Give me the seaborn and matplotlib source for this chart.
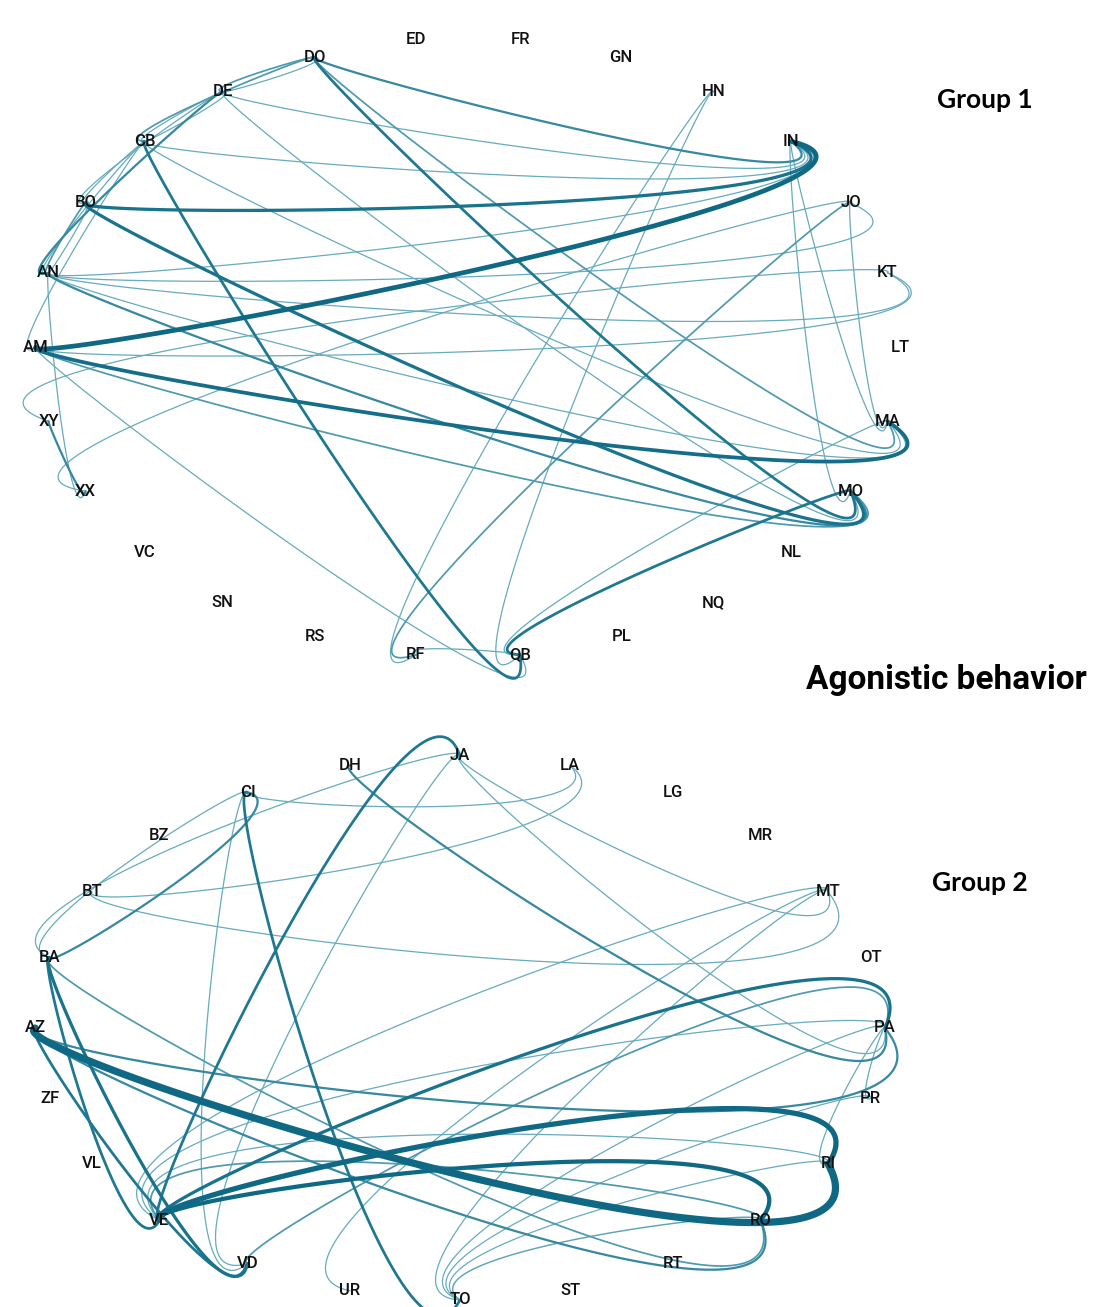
import numpy as np
import pandas as pd
import matplotlib
matplotlib.use("Agg")
import matplotlib.pyplot as plt
import seaborn as sns

# ---------------- data ----------------
group1_nodes = ["AM", "AN", "BO", "CB", "DE", "DO", "ED", "FR", "GN", "HN", "IN", "JO", "KT",
                "LT", "MA", "MO", "NL", "NQ", "PL", "QB", "RF", "RS", "SN", "VC", "XX", "XY"]
group1_src = ["AM", "BO", "DO", "DE", "CB", "AN",
              "AM", "DO", "AN", "CB", "IN", "JO",
              "BO", "AN", "DO", "DE", "AM", "IN",
              "CB", "AM", "HN", "MO", "MA",
              "JO", "HN", "QB",
              "AM", "AN", "AN", "KT", "JO",
              "DO", "DE", "DO", "DE", "CB", "DE", "DE", "CB", "CB", "BO", "AN", "CB", "AN", "XY"]
group1_dst = ["IN", "IN", "IN", "IN", "IN", "IN",
              "MA", "MA", "MA", "MA", "MA", "MA",
              "MO", "MO", "MO", "MO", "MO", "MO",
              "QB", "QB", "QB", "QB", "QB",
              "RF", "RF", "RF",
              "KT", "KT", "JO", "XY", "XX",
              "DE", "DO", "CB", "CB", "DE", "AN", "BO", "BO", "AN", "AN", "BO", "AM", "XX", "XX"]
group1_w = [4.5, 3.0, 2.0, 1.0, 1.0, 1.0,
            3.5, 1.5, 1.0, 1.0, 1.0, 1.0,
            3.0, 2.0, 2.5, 1.0, 1.5, 1.0,
            2.5, 1.0, 1.0, 2.5, 1.0,
            1.5, 1.0, 1.0,
            1.0, 1.0, 1.0, 1.0, 1.0,
            1.5, 1.0, 1.5, 1.0, 1.0, 2.0, 1.0, 1.0, 1.0, 1.5, 1.0, 1.0, 1.0, 2.0]
group1_bend = [1] * len(group1_src)

group2_nodes = ["AZ", "BA", "BT", "BZ", "CI", "DH", "JA", "LA", "LG", "MR", "MT", "OT",
                "PA", "PR", "RI", "RO", "RT", "ST", "TO", "UR", "VD", "VE", "VL", "ZF"]
group2_src = ["AZ", "VE", "VE", "VE", "CI", "DH", "BA", "AZ", "BA", "VE", "AZ", "VD",
              "BA", "CI", "BT", "CI", "BT", "JA", "JA", "JA", "MT",
              "PA", "RI", "PR", "RO", "MT",
              "PA", "RI", "RO", "MT",
              "PA", "PA", "AZ", "BA", "JA", "CI"]
group2_dst = ["RI", "RI", "RO", "JA", "TO", "PA", "VD", "VD", "VE", "PA", "PA", "PA",
              "CI", "LA", "LA", "VD", "MT", "MT", "PA", "VD", "UR",
              "TO", "TO", "TO", "TO", "TO",
              "VE", "VE", "VE", "VE",
              "PR", "RI", "RO", "RO", "BA", "BA"]
group2_w = [7.0, 5.0, 4.0, 2.5, 2.5, 2.0, 3.0, 2.5, 2.5, 3.0, 2.0, 1.5,
            2.0, 1.0, 1.0, 1.0, 1.0, 1.0, 1.0, 1.0, 1.0,
            1.0, 1.0, 1.0, 1.2, 1.0,
            1.0, 1.0, 1.5, 1.0,
            1.0, 1.0, 2.0, 1.5, 1.0, 1.0]
group2_bend = [1, -1, -1, -1, 1, 1, 1, 1, 1, -1, 1, -1,
               1, 1, 1, 1, 1, 1, 1, 1, 1,
               1, 1, 1, 1, 1,
               1, 1, 1, 1,
               1, 1, 1, 1, 1, 1]


def circle_layout(names, cx, cy, rx, ry):
    """Nodes spaced evenly around an ellipse, first node on the left, going clockwise."""
    n = len(names)
    ang = np.deg2rad(180.0 - 360.0 * np.arange(n) / n)
    return {nm: (cx + rx * np.cos(a), cy - ry * np.sin(a)) for nm, a in zip(names, ang)}


def edge_curves(pos, src, dst, w, bend, tail, head, gid):
    """Cubic curves that leave the source with a small hook and swing past the target."""
    rows = []
    t = np.linspace(0, 1, 140)
    for k, (s, d, wt, b) in enumerate(zip(src, dst, w, bend)):
        p0 = np.array(pos[s]); p3 = np.array(pos[d])
        v = p3 - p0
        L = np.hypot(*v)
        u = v / L
        r = np.array([-u[1], u[0]]) * b   # right-hand side in screen coordinates
        p1 = p0 - tail[0] * L * u + tail[1] * L * r
        p2 = p3 + head[0] * L * u + head[1] * L * r
        c = ((1 - t) ** 3)[:, None] * p0 + (3 * (1 - t) ** 2 * t)[:, None] * p1 \
            + (3 * (1 - t) * t ** 2)[:, None] * p2 + (t ** 3)[:, None] * p3
        rows.append(pd.DataFrame({"x": c[:, 0], "y": c[:, 1], "edge": f"{gid}{k}", "weight": wt}))
    return pd.concat(rows, ignore_index=True)


pos1 = circle_layout(group1_nodes, 468, 347, 432, 310)
pos2 = circle_layout(group2_nodes, 460, 1028, 425, 272)

e1 = edge_curves(pos1, group1_src, group1_dst, group1_w, group1_bend, (0.04, 0.02), (0.22, 0.12), "a")
e2 = edge_curves(pos2, group2_src, group2_dst, group2_w, group2_bend, (0.05, 0.04), (0.16, 0.2), "b")
edges = pd.concat([e1, e2], ignore_index=True)

# ---------------- drawing ----------------
sns.set_theme(style="white")
plt.rcParams["font.family"] = ["Roboto", "DejaVu Sans"]

fig = plt.figure(figsize=(10.95, 13.07), dpi=100)
ax = fig.add_axes([0, 0, 1, 1])

pal = sns.blend_palette(["#66abbe", "#1f7892", "#0f6884"], as_cmap=True)
sns.lineplot(data=edges, x="x", y="y", units="edge", estimator=None, sort=False,
             hue="weight", size="weight", sizes=(0.9, 5.2), palette=pal,
             hue_norm=(1, 4), legend=False, ax=ax, solid_capstyle="round")

for pos in (pos1, pos2):
    for nm, (x, y) in pos.items():
        ax.text(x, y, nm, ha="center", va="center", fontsize=12, fontweight="medium",
                color="#111111")

ax.text(985, 100, "Group 1", ha="center", va="center", fontsize=19, fontweight="bold",
        color="black", family=["Lato", "DejaVu Sans"])
ax.text(980, 883, "Group 2", ha="center", va="center", fontsize=19, fontweight="bold",
        color="black", family=["Lato", "DejaVu Sans"])
ax.text(1087, 680, "Agonistic behavior", ha="right", va="center", fontsize=24, fontweight="bold",
        color="black")

ax.set_xlim(0, 1095)
ax.set_ylim(1307, 0)
ax.axis("off")
fig.savefig("out.png", dpi=100, facecolor="white")
